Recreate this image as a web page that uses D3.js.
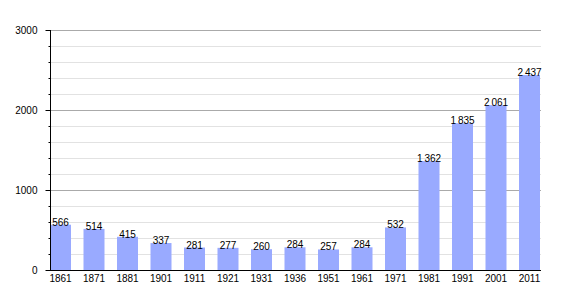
<!DOCTYPE html>
<html>
<head>
<meta charset="utf-8">
<script src="https://cdn.jsdelivr.net/npm/d3@7"></script>
<style>
  body { margin: 0; background: #fff; }
  svg text { font-family: "Liberation Sans", Arial, sans-serif; font-size: 10px; fill: #000; }
</style>
</head>
<body>
<svg id="chart" width="570" height="300"></svg>
<script>
const years = ["1861", "1871", "1881", "1901", "1911", "1921", "1931", "1936", "1951", "1961", "1971", "1981", "1991", "2001", "2011"];
const population = [566, 514, 415, 337, 281, 277, 260, 284, 257, 284, 532, 1362, 1835, 2061, 2437];
const majorTicks = [0, 1000, 2000, 3000];

const plotLeft = 50, plotRight = 541, plotTop = 30, plotBottom = 270;
const svg = d3.select("#chart");

let y = d3.scaleLinear().domain([0, 3000]).range([plotBottom, plotTop]);
// bars sit at the left of each band, gap on the right
let x = d3.scaleBand().domain(years).range([plotLeft, plotLeft + 15 * 33.5]);
let barW = 21;

let loc = d3.formatLocale({decimal: ",", thousands: "\u2009", grouping: [3], currency: ["", ""]});
let fmt = loc.format(",d");

// minor grid every 200
let minor = d3.range(200, 3000, 200).filter(v => v % 1000 != 0);
svg.append("g").selectAll("line")
    .data(minor)
    .enter().append("line")
    .attr("x1", plotLeft).attr("x2", plotRight)
    .attr("y1", d => y(d) + 0.5).attr("y2", d => y(d) + 0.5)
    .attr("stroke", "#e2e2e2");

svg.append("g").selectAll("line")
    .data(majorTicks.slice(1))
    .enter().append("line")
    .attr("x1", plotLeft).attr("x2", plotRight)
    .attr("y1", d => y(d) + 0.5).attr("y2", d => y(d) + 0.5)
    .attr("stroke", "#aaaaaa");

// bars
svg.append("g").selectAll("rect")
    .data(population)
    .enter().append("rect")
    .attr("x", (d, i) => x(years[i]))
    .attr("y", d => y(d))
    .attr("width", barW)
    .attr("height", d => plotBottom - y(d))
    .attr("fill", "#99aaff");

// value labels
svg.append("g").selectAll("text")
    .data(population)
    .enter().append("text")
    .attr("x", (d, i) => x(years[i]) + barW / 2)
    .attr("y", d => y(d) + 1)
    .attr("text-anchor", "middle")
    .text(d => fmt(d));

// y axis
let yAxis = svg.append("g").attr("transform", `translate(${plotLeft + 0.5},0)`);
yAxis.append("line").attr("y1", plotTop).attr("y2", plotBottom).attr("stroke", "#000");
yAxis.selectAll(".minor")
    .data(minor)
    .enter().append("line")
    .attr("x1", -2).attr("x2", 0)
    .attr("y1", d => y(d) + 0.5).attr("y2", d => y(d) + 0.5)
    .attr("stroke", "#000");
yAxis.selectAll(".major")
    .data(majorTicks)
    .enter().append("line")
    .attr("x1", -5).attr("x2", 0)
    .attr("y1", d => y(d) + 0.5).attr("y2", d => y(d) + 0.5)
    .attr("stroke", "#000");
yAxis.selectAll("text")
    .data(majorTicks)
    .enter().append("text")
    .attr("x", -13)
    .attr("y", d => y(d) + 4)
    .attr("text-anchor", "end")
    .text(d => d);

// x axis
svg.append("line")
    .attr("x1", plotLeft).attr("x2", plotRight)
    .attr("y1", plotBottom + 0.5).attr("y2", plotBottom + 0.5)
    .attr("stroke", "#000");
svg.append("g").selectAll("text")
    .data(years)
    .enter().append("text")
    .attr("x", d => x(d) + barW / 2)
    .attr("y", plotBottom + 12)
    .attr("text-anchor", "middle")
    .text(d => d);
</script>
</body>
</html>
